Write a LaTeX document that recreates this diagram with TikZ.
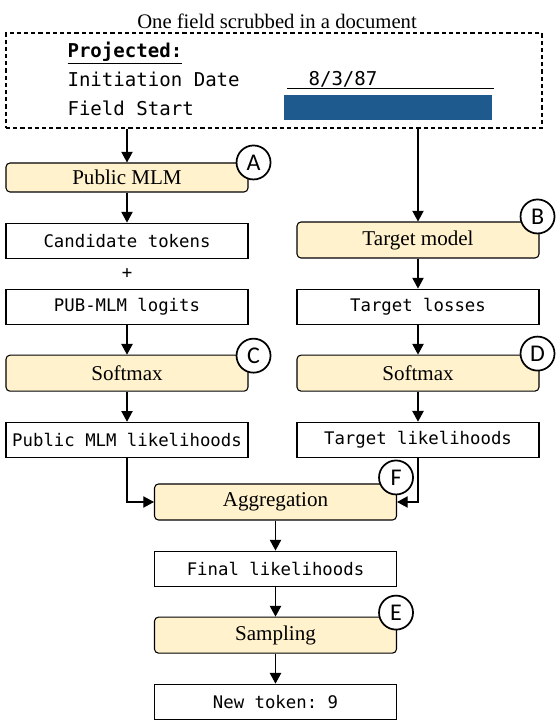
\documentclass[tikz,border=0pt]{standalone}
\usepackage{fontspec}
\setmainfont{Liberation Serif}
\setmonofont{DejaVu Sans Mono}
\newfontfamily\tagfont{Carlito}
\usetikzlibrary{arrows.meta, calc, positioning}
\definecolor{modelfill}{HTML}{FFF2CC}
\definecolor{scrubbed}{HTML}{1F5A8E}
\tikzstyle{model} = [draw, fill=modelfill, rounded corners=3pt, minimum width=181.5pt, minimum height=27pt, inner sep=0pt, font=\fontsize{15.8}{18}\selectfont]
\tikzstyle{data} = [draw, minimum width=181.5pt, minimum height=26.25pt, inner sep=0pt, font=\ttfamily\fontsize{13}{16}\selectfont]
\tikzstyle{tag} = [draw, circle, fill=white, minimum size=25.5pt, inner sep=0pt, line width=1.3pt, font=\tagfont\fontsize{18}{20}\selectfont]
\tikzstyle{doctext} = [anchor=west, inner sep=0pt, font=\ttfamily\fontsize{14.3}{17}\selectfont]

\begin{document}
\begin{tikzpicture}[x=0.75pt, y=0.75pt, >={Triangle[length=8pt,width=8.5pt]}, node distance=22.5pt, thick]
  \useasboundingbox (0,0) rectangle (560,722);

  % scrubbed document
  \node[font=\fontsize{15.5}{18}\selectfont] (title) at (277,701) {One field scrubbed in a document};
  \node[draw, dash pattern=on 3.2pt off 2.2pt, line width=1.5pt, minimum width=402pt, minimum height=71.25pt] (doc) at (274,641.5) {};
  \node[doctext, font=\ttfamily\bfseries\fontsize{14.3}{17}\selectfont] (proj) at (67,669) {\underline{Projected:}};
  \node[doctext] (init) at (67,643) {Initiation Date};
  \node[doctext] (start) at (67,614) {Field Start};
  \node[doctext, anchor=center] (date) at (343,643) {8/3/87};
  \draw[semithick] (287,634) -- (494,634);
  \fill[scrubbed] (284,602) rectangle (492,627);

  % public MLM branch
  \node[model, minimum height=21.75pt] (pubmlm) at (127,544.5) {Public MLM};
  \node[data, below=of pubmlm] (cand) {Candidate tokens};
  \node[data, below=of cand] (logits) {PUB-MLM logits};
  \node[model, below=of logits] (softL) {Softmax};
  \node[data, below=of softL] (likL) {Public MLM likelihoods};
  \node[font=\ttfamily\fontsize{13}{16}\selectfont] (plus) at ($(cand.south)!0.5!(logits.north)$) {+};

  % target branch
  \node[model] (tgt) at (418,482) {Target model};
  \node[data, below=of tgt] (loss) {Target losses};
  \node[model, below=of loss] (softR) {Softmax};
  \node[data, below=of softR] (likR) {Target likelihoods};

  % merge
  \node[model] (agg) at (275.5,220) {Aggregation};
  \node[data, below=of agg] (final) {Final likelihoods};
  \node[model, below=of final] (samp) {Sampling};
  \node[data, below=of samp] (new) {New token: 9};

  \node[tag] (A) at ($(pubmlm.north east)+(5,0)$) {A};
  \node[tag] (B) at ($(tgt.north east)+(-2,5)$) {B};
  \node[tag] (C) at ($(softL.north east)+(5,-1)$) {C};
  \node[tag] (D) at ($(softR.north east)+(-2,1)$) {D};
  \node[tag] (F) at ($(agg.north east)+(-1,6)$) {F};
  \node[tag] (E) at ($(samp.north east)+(-1,4)$) {E};

  \draw[->] (doc.south -| pubmlm.north) -- (pubmlm.north);
  \draw[->] (doc.south -| tgt.north) -- (tgt.north);
  \draw[->] (pubmlm) -- (cand);
  \draw[->] (logits) -- (softL);
  \draw[->] (softL) -- (likL);
  \draw[->] (tgt) -- (loss);
  \draw[->] (loss) -- (softR);
  \draw[->] (softR) -- (likR);
  \draw[->] (likL.south) |- (agg.west);
  \draw[->] (likR.south) |- (agg.east);
  \draw[->] (agg) -- (final);
  \draw[->] (final) -- (samp);
  \draw[->] (samp) -- (new);

\end{tikzpicture}
\end{document}
